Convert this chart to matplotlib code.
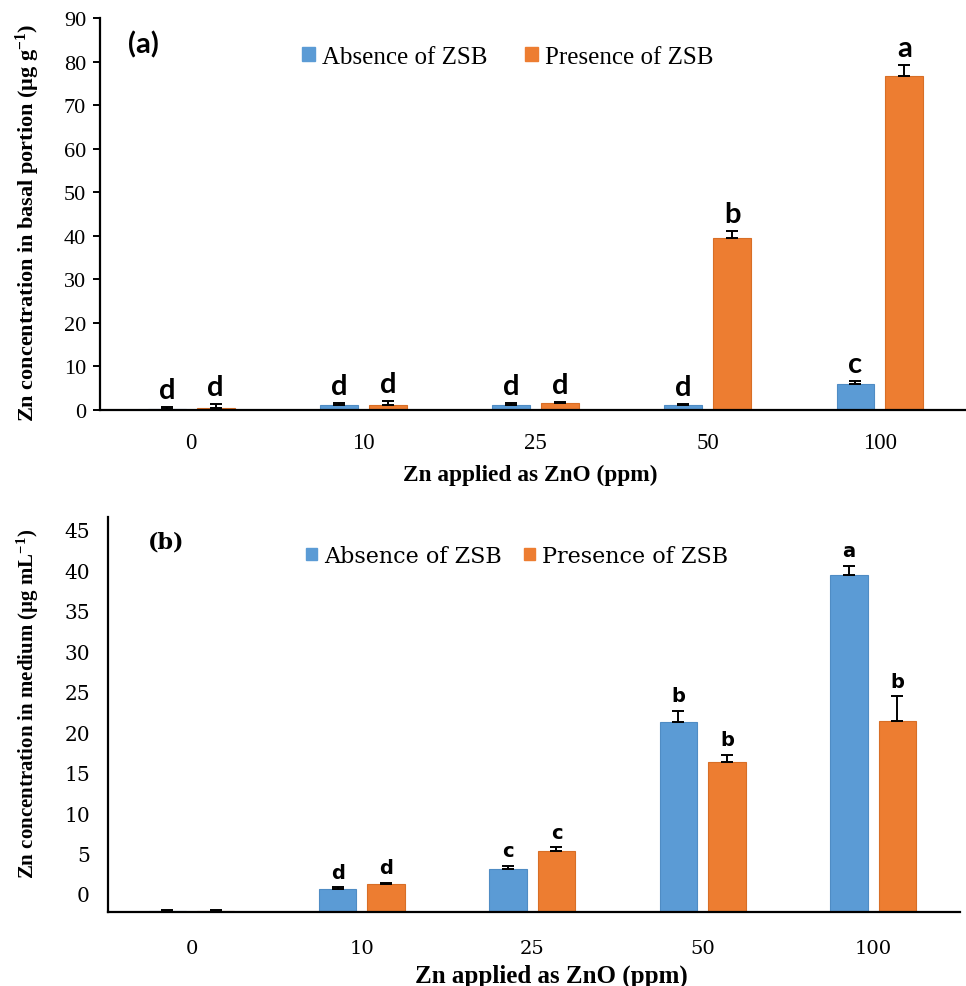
import matplotlib
matplotlib.use("Agg")
import matplotlib.pyplot as plt
import numpy as np
from matplotlib.patches import Patch

plt.rcParams['mathtext.fontset'] = 'custom'
plt.rcParams['mathtext.rm'] = 'Liberation Serif'
plt.rcParams['mathtext.bf'] = 'Liberation Serif:bold'
plt.rcParams['mathtext.it'] = 'Liberation Serif:italic'

# ---------------- data ----------------
categories = ['0', '10', '25', '50', '100']

a_absence = [0.3, 1.2, 1.2, 1.1, 6.0]
a_absence_err = [0.3, 0.3, 0.3, 0.3, 0.7]
a_presence = [0.4, 1.1, 1.5, 39.6, 76.7]
a_presence_err = [1.0, 0.9, 0.4, 1.4, 2.5]
a_absence_letters = ['d', 'd', 'd', 'd', 'c']
a_presence_letters = ['d', 'd', 'd', 'b', 'a']
a_yticks = [0, 10, 20, 30, 40, 50, 60, 70, 80, 90]

b_absence = [0.1, 2.8, 5.3, 23.4, 41.6]
b_absence_err = [0.1, 0.2, 0.4, 1.4, 1.1]
b_presence = [0.1, 3.4, 7.5, 18.5, 23.5]
b_presence_err = [0.1, 0.2, 0.45, 0.85, 3.1]
b_absence_letters = ['', 'd', 'c', 'b', 'a']
b_presence_letters = ['', 'd', 'c', 'b', 'b']
b_ytick_labels = [0, 5, 10, 15, 20, 25, 30, 35, 40, 45]
b_label_offset = 2.19  # tick labels in the original sit above their true positions

series_names = ['Absence of ZSB', 'Presence of ZSB']
BLUE = '#5B9BD5'
ORANGE = '#ED7D31'

fig = plt.figure(figsize=(9.66, 9.87), dpi=100)
W, H = 966, 987

def fx(px):
    return px / W

def fy(py):
    return 1 - py / H

serif = 'Liberation Serif'

def draw_panel(ax, absent, absent_err, present, present_err, l_abs, l_pre,
               letter_font, letter_size, letter_pad):
    x = np.arange(len(categories))
    w = 0.22
    off = 0.142
    ax.bar(x - off, absent, width=w, color=BLUE, edgecolor='#4F8CC4', linewidth=0.8, zorder=2)
    ax.bar(x + off, present, width=w, color=ORANGE, edgecolor='#D86E26', linewidth=0.8, zorder=2)
    ax.errorbar(x - off, absent, yerr=[np.zeros(len(x)), absent_err], fmt='none',
                ecolor='black', elinewidth=1.4, capsize=4.3, capthick=1.4, zorder=3)
    ax.errorbar(x + off, present, yerr=[np.zeros(len(x)), present_err], fmt='none',
                ecolor='black', elinewidth=1.4, capsize=4.3, capthick=1.4, zorder=3)
    for xi, v, e, t in zip(x - off, absent, absent_err, l_abs):
        if t:
            ax.annotate(t, (xi, v + e), xytext=(0, letter_pad), textcoords='offset points',
                        ha='center', va='bottom', fontsize=letter_size,
                        fontweight='bold', family=letter_font)
    for xi, v, e, t in zip(x + off, present, present_err, l_pre):
        if t:
            ax.annotate(t, (xi, v + e), xytext=(0, letter_pad), textcoords='offset points',
                        ha='center', va='bottom', fontsize=letter_size,
                        fontweight='bold', family=letter_font)
    for s in ['top', 'right']:
        ax.spines[s].set_visible(False)
    for s in ['left', 'bottom']:
        ax.spines[s].set_linewidth(1.6)
        ax.spines[s].set_color('black')
    ax.set_xticks(x)
    ax.set_xticklabels(categories)
    ax.tick_params(axis='x', length=0, pad=18)

# ---------------- panel (a) ----------------
axa = fig.add_axes([fx(100), fy(411), fx(866), 392 / H])
draw_panel(axa, a_absence, a_absence_err, a_presence, a_presence_err,
           a_absence_letters, a_presence_letters, 'Lato', 21, 3)
axa.set_xlim(-0.53, 4.5)
axa.set_ylim(0, 90)
axa.set_yticks(a_yticks)
axa.tick_params(axis='y', length=5, width=1.4, direction='out', pad=5)
for lab in axa.get_yticklabels():
    lab.set_family(serif)
    lab.set_fontsize(16)
for lab in axa.get_xticklabels():
    lab.set_family(serif)
    lab.set_fontsize(16.5)
axa.tick_params(axis='x', pad=16)
axa.text(fx(128), fy(45), '(a)', transform=fig.transFigure, fontsize=21,
         fontweight='bold', family='Lato', va='center', ha='left')
fig.text(fx(28), fy(223), r'Zn concentration in basal portion (µg g$^{\mathbf{-1}}$)',
         rotation=90, ha='center', va='center', fontsize=16, fontweight='bold', family=serif)
fig.text(fx(530), fy(475), 'Zn applied as ZnO (ppm)', ha='center', va='center',
         fontsize=16.8, fontweight='bold', family=serif)
handles = [Patch(facecolor=BLUE, edgecolor=BLUE), Patch(facecolor=ORANGE, edgecolor=ORANGE)]
axa.legend(handles, series_names, loc='center', bbox_to_anchor=(fx(508), fy(58)),
           bbox_transform=fig.transFigure, ncol=2, frameon=False,
           prop={'family': serif, 'size': 18}, handlelength=0.5, handleheight=0.5,
           handletextpad=0.3, columnspacing=1.5)

# ---------------- panel (b) ----------------
axb = fig.add_axes([fx(108), fy(912.7), fx(852), 394.7 / H])
draw_panel(axb, b_absence, b_absence_err, b_presence, b_presence_err,
           b_absence_letters, b_presence_letters, 'DejaVu Sans', 14, 4)
axb.set_xlim(-0.49, 4.51)
axb.set_ylim(0, 48.75)
axb.set_yticks(np.array(b_ytick_labels) + b_label_offset)
axb.set_yticklabels([str(v) for v in b_ytick_labels])
axb.tick_params(axis='y', length=0, pad=13)
for lab in axb.get_yticklabels():
    lab.set_family('DejaVu Serif')
    lab.set_fontsize(14.5)
for lab in axb.get_xticklabels():
    lab.set_family('DejaVu Serif')
    lab.set_fontsize(14)
axb.tick_params(axis='x', pad=20)
axb.text(fx(148), fy(543), '(b)', transform=fig.transFigure, fontsize=16,
         fontweight='bold', family='DejaVu Serif', va='center', ha='left')
fig.text(fx(28), fy(704), r'Zn concentration in medium (µg mL$^{\mathbf{-1}}$)',
         rotation=90, ha='center', va='center', fontsize=15, fontweight='bold', family=serif)
fig.text(fx(551), fy(976), 'Zn applied as ZnO (ppm)', ha='center', va='center',
         fontsize=18, fontweight='bold', family=serif)
axb.legend(handles, series_names, loc='center', bbox_to_anchor=(fx(517), fy(557)),
           bbox_transform=fig.transFigure, ncol=2, frameon=False,
           prop={'family': 'DejaVu Serif', 'size': 16}, handlelength=0.5, handleheight=0.5,
           handletextpad=0.3, columnspacing=1.0)

fig.savefig('out.png', dpi=100)
